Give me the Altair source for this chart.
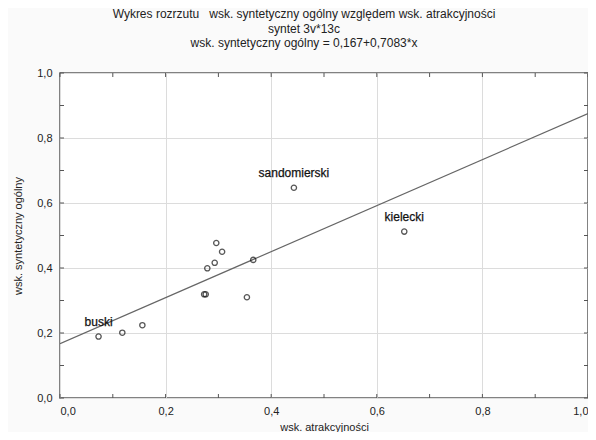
import altair as alt
import pandas as pd

# ---- data ----
names = ["buski", "", "", "", "", "", "", "", "", "", "", "sandomierski", "kielecki"]
atrakcyjnosc = [0.073, 0.118, 0.156, 0.273, 0.276, 0.279, 0.293, 0.296, 0.307, 0.354, 0.366, 0.443, 0.652]
syntetyczny = [0.189, 0.201, 0.224, 0.319, 0.319, 0.399, 0.416, 0.477, 0.450, 0.310, 0.425, 0.647, 0.512]
intercept = 0.167
slope = 0.7083
major_ticks = [0.0, 0.2, 0.4, 0.6, 0.8, 1.0]
all_ticks = [0.0, 0.1, 0.2, 0.3, 0.4, 0.5, 0.6, 0.7, 0.8, 0.9, 1.0]
title_lines = [
    "Wykres rozrzutu\u00a0\u00a0\u00a0wsk. syntetyczny ogólny względem wsk. atrakcyjności",
    "syntet 3v*13c",
    "wsk. syntetyczny ogólny = 0,167+0,7083*x",
]

W, H = 528, 325
FONT = "Liberation Sans"
label_expr = "replace(format(datum.value, '.1f'), '.', ',')"

pts = pd.DataFrame({"x": atrakcyjnosc, "y": syntetyczny, "name": names})
line_df = pd.DataFrame({"x": [0.0, 1.0], "y": [intercept, intercept + slope]})
ticks_df = pd.DataFrame({"t": all_ticks})

xs = alt.Scale(domain=[0, 1], nice=False, zero=False)
ys = alt.Scale(domain=[0, 1], nice=False, zero=False)

x_axis = alt.Axis(values=major_ticks, labelExpr=label_expr, title="wsk. atrakcyjności",
                  grid=True, gridColor="#dcdcdc", gridWidth=1, ticks=False, domain=False,
                  labelFont=FONT, labelFontSize=11, labelColor="#222", labelPadding=7,
                  titleFont=FONT, titleFontSize=11, titleFontWeight="normal", titleColor="#222",
                  titlePadding=5)
y_axis = alt.Axis(values=major_ticks, labelExpr=label_expr, title="wsk. syntetyczny ogólny",
                  grid=True, gridColor="#dcdcdc", gridWidth=1, ticks=False, domain=False,
                  labelFont=FONT, labelFontSize=11, labelColor="#222", labelPadding=8,
                  titleFont=FONT, titleFontSize=11, titleFontWeight="normal", titleColor="#222",
                  titlePadding=13)

base_pts = alt.Chart(pts)

frame_axes = alt.Chart(line_df).mark_point(opacity=0).encode(
    x=alt.X("x:Q", scale=xs, axis=x_axis),
    y=alt.Y("y:Q", scale=ys, axis=y_axis),
)

reg = alt.Chart(line_df).mark_line(color="#666666", strokeWidth=1.2, clip=True).encode(
    x=alt.X("x:Q", scale=xs),
    y=alt.Y("y:Q", scale=ys),
)

points = base_pts.mark_point(shape="circle", filled=False, color="#111", size=28, strokeWidth=1.3).encode(
    x=alt.X("x:Q", scale=xs),
    y=alt.Y("y:Q", scale=ys),
)

labels = base_pts.transform_filter("datum.name != ''").mark_text(
    font=FONT, fontSize=12, fontWeight="normal", color="#111", dy=-11, baseline="alphabetic",
    stroke="#111", strokeWidth=0.25
).encode(
    x=alt.X("x:Q", scale=xs),
    y=alt.Y("y:Q", scale=ys),
    text="name:N",
)

tick_style = dict(color="#555", strokeWidth=1)
bottom_ticks = alt.Chart(ticks_df).mark_rule(**tick_style).encode(
    x=alt.X("t:Q", scale=xs), y=alt.value(H), y2=alt.value(H - 4))
top_ticks = alt.Chart(ticks_df).mark_rule(**tick_style).encode(
    x=alt.X("t:Q", scale=xs), y=alt.value(0), y2=alt.value(4))
left_ticks = alt.Chart(ticks_df).mark_rule(**tick_style).encode(
    y=alt.Y("t:Q", scale=ys), x=alt.value(0), x2=alt.value(4))
right_ticks = alt.Chart(ticks_df).mark_rule(**tick_style).encode(
    y=alt.Y("t:Q", scale=ys), x=alt.value(W), x2=alt.value(W - 4))

chart = alt.layer(
    frame_axes, reg, bottom_ticks, top_ticks, left_ticks, right_ticks, points, labels
).properties(
    width=W,
    height=H,
    autosize=alt.AutoSizeParams(type="none"),
    padding={"left": 52, "top": 65, "right": 0, "bottom": 34},
    background="#fafafa",
    title=alt.TitleParams(text=title_lines, font=FONT, fontSize=12, fontWeight="normal",
                          color="#222", lineHeight=14.5, offset=17, anchor="middle", dx=-20),
).configure_view(
    fill="white", stroke="#5a5a5a", strokeWidth=1.5
)

chart.save("out.html", embed_options={"renderer": "svg", "actions": False})
